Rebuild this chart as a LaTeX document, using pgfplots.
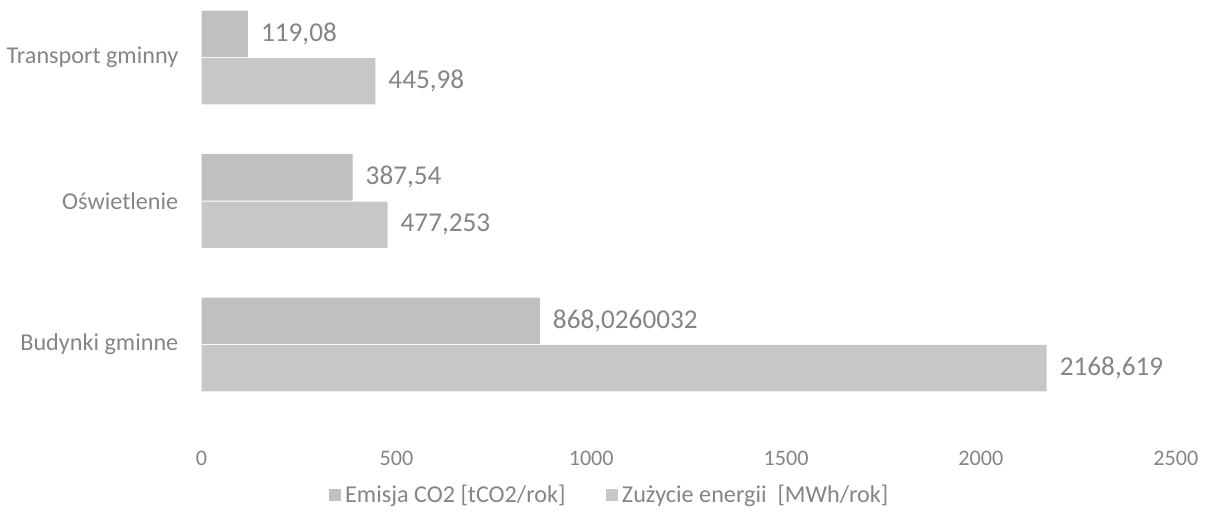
\documentclass[border=0pt]{standalone}
\usepackage{fontspec}
\setmainfont{Carlito}
\usepackage{pgfplots}
\pgfplotsset{compat=1.18}
\definecolor{emis}{HTML}{C0C0C0}
\definecolor{zuz}{HTML}{C6C7C7}
\definecolor{txt}{HTML}{858585}
\begin{document}
\begin{tikzpicture}
\begin{axis}[
    xbar,
    scale only axis,
    width=483.5pt, height=210pt,
    xmin=0, xmax=2500,
    ymin=-0.55, ymax=2.40,
    bar width=23pt,
    xtick={0,500,1000,1500,2000,2500},
    ytick={0,1,2},
    yticklabels={Budynki gminne, Oświetlenie, Transport gminny},
    axis line style={draw=none},
    major tick length=0pt,
    /pgf/number format/assume math mode=true,
    /pgf/number format/1000 sep={},
    xticklabel style={font=\fontsize{11}{13}\selectfont, text=txt, yshift=-10pt},
    yticklabel style={font=\fontsize{12}{14}\selectfont, text=txt, xshift=-8pt},
    point meta=explicit symbolic,
    nodes near coords,
    nodes near coords align={horizontal},
    every node near coord/.append style={font=\fontsize{13.5}{15}\selectfont, text=txt, anchor=west, xshift=3pt},
    legend style={at={(0.42,-0.17)}, anchor=center, draw=none, legend columns=-1,
        font=\fontsize{12}{14}\selectfont, text=txt,
        /tikz/every even column/.append style={column sep=18pt}},
    legend image code/.code={\fill[#1] (0pt,-3pt) rectangle (6pt,3pt);},
]
\addplot[draw=none, fill=emis, bar shift=11.75pt] coordinates {
    (868.0260032,0) [868,0260032]
    (387.54,1) [387,54]
    (119.08,2) [119,08]
};
\addplot[draw=none, fill=zuz, bar shift=-11.75pt] coordinates {
    (2168.619,0) [2168,619]
    (477.253,1) [477,253]
    (445.98,2) [445,98]
};
\legend{Emisja CO2 [tCO2/rok], Zużycie energii \ [MWh/rok]}
\end{axis}
\end{tikzpicture}
\end{document}
